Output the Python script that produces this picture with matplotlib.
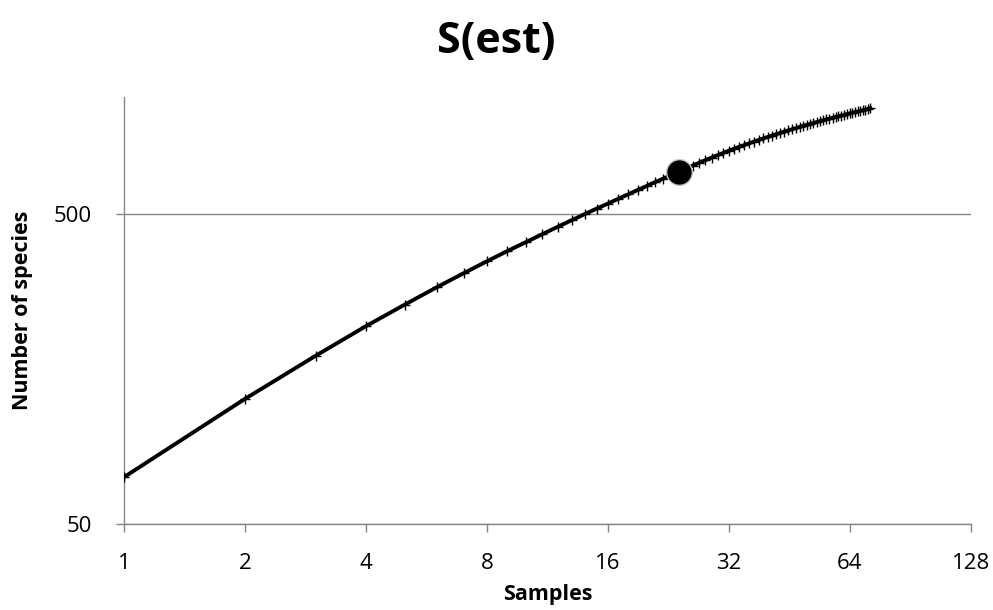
import matplotlib.pyplot as plt
from matplotlib.ticker import FixedLocator, FixedFormatter, NullLocator

# species accumulation values, one per sample
samples = list(range(1, 73))
species = [71, 127, 175, 218, 256, 291, 323, 353, 381, 407,
           432, 456, 479, 501, 522, 542, 562, 581, 600, 618,
           636, 653, 670, 688, 703, 719, 734, 749, 763, 777,
           790, 803, 815, 827, 838, 849, 860, 870, 880, 890,
           899, 908, 917, 926, 934, 942, 950, 958, 966, 973,
           980, 987, 994, 1001, 1008, 1014, 1020, 1026, 1032, 1037,
           1043, 1048, 1054, 1060, 1065, 1070, 1075, 1080, 1085, 1090,
           1095, 1100]
highlight_sample = 24

x_ticks = [1, 2, 4, 8, 16, 32, 64, 128]
y_ticks = [50, 500]

plt.rcParams['font.family'] = ['Open Sans', 'DejaVu Sans']
grey = '#868686'

fig = plt.figure(figsize=(9.93, 6.10), dpi=100)
ax = fig.add_axes([0.1249, 0.1405, 0.8526, 0.701])

ax.plot(samples, species, color='black', lw=2.8, marker='+', ms=7.5, mew=1.0, zorder=3)
hi = samples.index(highlight_sample)
ax.plot(samples[hi], species[hi], 'o', color='black', ms=18.5, mec='#c8c8c8', mew=1.0, zorder=4)

ax.set_xscale('log', base=2)
ax.set_yscale('log', base=10)
ax.set_xlim(1, 128)
ax.set_ylim(50, 1200)

ax.xaxis.set_major_locator(FixedLocator(x_ticks))
ax.xaxis.set_major_formatter(FixedFormatter([str(t) for t in x_ticks]))
ax.xaxis.set_minor_locator(NullLocator())
ax.yaxis.set_major_locator(FixedLocator(y_ticks))
ax.yaxis.set_major_formatter(FixedFormatter([str(t) for t in y_ticks]))
ax.yaxis.set_minor_locator(NullLocator())

ax.grid(axis='y', color=grey, lw=1.0)
ax.set_axisbelow(True)

for s in ['top', 'right']:
    ax.spines[s].set_visible(False)
for s in ['left', 'bottom']:
    ax.spines[s].set_color(grey)
    ax.spines[s].set_linewidth(1.0)

ax.tick_params(axis='x', length=6, color=grey, width=1, labelsize=16, pad=15)
ax.tick_params(axis='y', length=6, color=grey, width=1, labelsize=16, pad=17)

ax.set_xlabel('Samples', fontsize=15.5, fontweight='bold', labelpad=7)
ax.set_ylabel('Number of species', fontsize=15.5, fontweight='bold', labelpad=15)
fig.suptitle('S(est)', fontsize=31, fontweight='bold', y=0.968)

fig.savefig('out.png', dpi=100)
